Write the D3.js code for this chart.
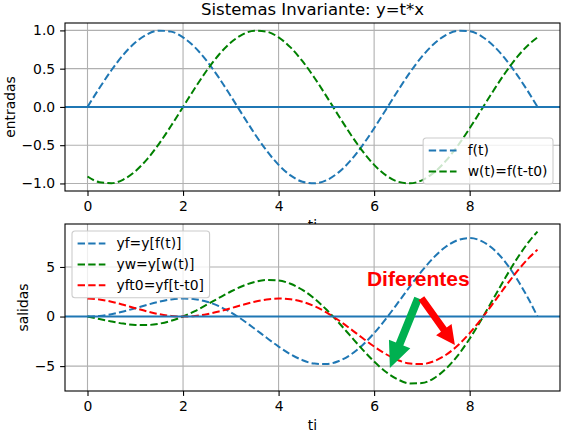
<!DOCTYPE html>
<html>
<head>
<meta charset="utf-8">
<script src="https://cdn.jsdelivr.net/npm/d3@7"></script>
<style>
  body { margin: 0; background: #fff; }
  svg { display: block; font-family: "DejaVu Sans", sans-serif; }
</style>
</head>
<body>
<svg id="chart" width="565" height="435"></svg>
<script>
// muestras de t (0 .. 3π)
const T = [0, 0.25, 0.5, 0.75, 1, 1.25, 1.5, 1.75, 2, 2.25, 2.5, 2.75, 3, 3.25, 3.5, 3.75,
  4, 4.25, 4.5, 4.75, 5, 5.25, 5.5, 5.75, 6, 6.25, 6.5, 6.75, 7, 7.25, 7.5, 7.75,
  8, 8.25, 8.5, 8.75, 9, 9.25, 9.42];

// entradas
const F = [0, 0.247, 0.479, 0.682, 0.841, 0.949, 0.997, 0.984, 0.909, 0.778, 0.598, 0.382,
  0.141, -0.108, -0.351, -0.572, -0.757, -0.895, -0.978, -0.999, -0.959, -0.859, -0.706,
  -0.508, -0.279, -0.033, 0.215, 0.450, 0.657, 0.823, 0.938, 0.995, 0.989, 0.923, 0.798,
  0.625, 0.412, 0.174, 0.000];
const W = [-0.909, -0.984, -0.997, -0.949, -0.841, -0.682, -0.479, -0.247, 0, 0.247, 0.479,
  0.682, 0.841, 0.949, 0.997, 0.984, 0.909, 0.778, 0.598, 0.382, 0.141, -0.108, -0.351,
  -0.572, -0.757, -0.895, -0.978, -0.999, -0.959, -0.859, -0.706, -0.508, -0.279, -0.033,
  0.215, 0.450, 0.657, 0.823, 0.909];

// salidas
const YF = [0, 0.062, 0.240, 0.511, 0.841, 1.186, 1.496, 1.722, 1.819, 1.751, 1.496, 1.050,
  0.423, -0.352, -1.228, -2.144, -3.027, -3.804, -4.399, -4.747, -4.795, -4.509, -3.880,
  -2.922, -1.676, -0.208, 1.398, 3.038, 4.599, 5.968, 7.035, 7.708, 7.915, 7.612, 6.787,
  5.467, 3.709, 1.609, 0.000];
const YW = [0, -0.246, -0.499, -0.712, -0.841, -0.852, -0.719, -0.433, 0, 0.557, 1.199,
  1.874, 2.525, 3.084, 3.491, 3.690, 3.637, 3.307, 2.693, 1.813, 0.706, -0.568, -1.929,
  -3.287, -4.541, -5.594, -6.354, -6.745, -6.712, -6.227, -5.291, -3.939, -2.235, -0.274,
  1.828, 3.938, 5.913, 7.614, 8.570];
const YFT0 = [1.819, 1.722, 1.496, 1.186, 0.841, 0.511, 0.240, 0.062, 0, 0.062, 0.240,
  0.511, 0.841, 1.186, 1.496, 1.722, 1.819, 1.751, 1.496, 1.050, 0.423, -0.352, -1.228,
  -2.144, -3.027, -3.804, -4.399, -4.747, -4.795, -4.509, -3.880, -2.922, -1.676, -0.208,
  1.398, 3.038, 4.599, 5.968, 6.751];

const X_TICKS = [0, 2, 4, 6, 8];
const TOP_Y_TICKS = [-1, -0.5, 0, 0.5, 1];
const BOT_Y_TICKS = [-5, 0, 5];

const TOP_SERIES = [
  { name: "f(t)", values: F, color: "#1f77b4" },
  { name: "w(t)=f(t-t0)", values: W, color: "#008000" }
];
const BOT_SERIES = [
  { name: "yf=y[f(t)]", values: YF, color: "#1f77b4" },
  { name: "yw=y[w(t)]", values: YW, color: "#008000" },
  { name: "yft0=yf[t-t0]", values: YFT0, color: "#ff0000" }
];

// anotación (coordenadas de datos del panel inferior)
const NOTE = { text: "Diferentes", t: 5.85, y: 3.05 };
const ARROWS = [
  { from: [6.92, 1.85], to: [6.33, -5.2], color: "#00b050", shaft: 8, head: 23, headLen: 26 },
  { from: [6.99, 1.85], to: [7.69, -2.88], color: "#ff0000", shaft: 7, head: 19, headLen: 19 }
];

const FS = 13.9;
const svg = d3.select("#chart");

function padded(ext) {
  const m = (ext[1] - ext[0]) * 0.05;
  return [ext[0] - m, ext[1] + m];
}

const x = d3.scaleLinear().domain(padded(d3.extent(T))).range([65, 560]);

function drawPanel(box, series, yTicks, yFmt, ylabel, ylabelX, legendPos) {
  const all = series.flatMap(s => s.values);
  const y = d3.scaleLinear().domain(padded(d3.extent(all))).range([box.y1, box.y0]);
  const g = svg.append("g");

  g.append("rect")
    .attr("x", box.x0).attr("y", box.y0)
    .attr("width", box.x1 - box.x0).attr("height", box.y1 - box.y0)
    .attr("fill", "#fff");

  // rejilla
  g.selectAll(".gx").data(X_TICKS).enter().append("line")
    .attr("x1", d => x(d)).attr("x2", d => x(d))
    .attr("y1", box.y0).attr("y2", box.y1)
    .attr("stroke", "#b0b0b0").attr("stroke-width", 1.1);
  g.selectAll(".gy").data(yTicks).enter().append("line")
    .attr("x1", box.x0).attr("x2", box.x1)
    .attr("y1", d => y(d)).attr("y2", d => y(d))
    .attr("stroke", "#b0b0b0").attr("stroke-width", 1.1);

  const line = d3.line()
    .x((d, i) => x(T[i]))
    .y(d => y(d))
    .curve(d3.curveMonotoneX);

  series.forEach(s => {
    g.append("path")
      .attr("d", line(s.values))
      .attr("fill", "none")
      .attr("stroke", s.color)
      .attr("stroke-width", 2)
      .attr("stroke-dasharray", "7.4 3.2");
  });

  // axhline y=0
  g.append("line")
    .attr("x1", box.x0).attr("x2", box.x1)
    .attr("y1", y(0)).attr("y2", y(0))
    .attr("stroke", "#1f77b4").attr("stroke-width", 2);

  g.append("rect")
    .attr("x", box.x0).attr("y", box.y0)
    .attr("width", box.x1 - box.x0).attr("height", box.y1 - box.y0)
    .attr("fill", "none").attr("stroke", "#000").attr("stroke-width", 1.1);

  // ejes
  const xAxis = g.append("g").attr("transform", `translate(0,${box.y1})`)
    .call(d3.axisBottom(x).tickValues(X_TICKS).tickSize(4.9).tickPadding(4.9));
  const yAxis = g.append("g").attr("transform", `translate(${box.x0},0)`)
    .call(d3.axisLeft(y).tickValues(yTicks).tickFormat(yFmt).tickSize(4.9).tickPadding(4.9));
  [xAxis, yAxis].forEach(a => {
    a.select(".domain").remove();
    a.selectAll(".tick line").attr("stroke", "#000").attr("stroke-width", 1.1);
    a.selectAll(".tick text").attr("fill", "#000")
      .style("font-size", FS + "px").style("font-family", "DejaVu Sans");
  });

  g.append("text")
    .attr("transform", `translate(${ylabelX},${(box.y0 + box.y1) / 2}) rotate(-90)`)
    .attr("text-anchor", "middle")
    .style("font-size", FS + "px")
    .text(ylabel);

  // leyenda
  const lg = g.append("g");
  const frame = lg.append("rect")
    .attr("rx", 3).attr("ry", 3)
    .attr("fill", "#fff").attr("fill-opacity", 0.8)
    .attr("stroke", "#cccccc").attr("stroke-width", 1.1);
  const rowH = 20.8;
  let maxW = 0;
  series.forEach((s, i) => {
    const cy = 12.6 + i * rowH;
    lg.append("line")
      .attr("x1", 5.6).attr("x2", 33.4).attr("y1", cy).attr("y2", cy)
      .attr("stroke", s.color).attr("stroke-width", 2).attr("stroke-dasharray", "7.4 3.2");
    const tx = lg.append("text")
      .attr("x", 44.5).attr("y", cy).attr("dy", "0.35em")
      .style("font-size", FS + "px")
      .text(s.name);
    maxW = Math.max(maxW, tx.node().getComputedTextLength());
  });
  const lw = 44.5 + maxW + 5.6;
  const lh = 12.6 * 2 + (series.length - 1) * rowH;
  frame.attr("width", lw).attr("height", lh);
  const lx = legendPos === "lower right" ? box.x1 - 7 - lw : box.x0 + 7;
  const ly = legendPos === "lower right" ? box.y1 - 7 - lh : box.y0 + 7;
  lg.attr("transform", `translate(${lx},${ly})`);

  return y;
}

// título
svg.append("text")
  .attr("x", 312.5).attr("y", 15)
  .attr("text-anchor", "middle")
  .style("font-size", "16.5px")
  .text("Sistemas Invariante: y=t*x");

const topBox = { x0: 65, x1: 560, y0: 23, y1: 191 };
const botBox = { x0: 65, x1: 560, y0: 224, y1: 391 };

drawPanel(topBox, TOP_SERIES, TOP_Y_TICKS, d3.format(".1f"), "entradas", 14.5, "lower right");

// etiqueta x del panel superior (queda tapada por el panel inferior)
svg.append("text")
  .attr("x", 312.5).attr("y", 229.5)
  .attr("text-anchor", "middle")
  .style("font-size", FS + "px")
  .text("ti");

const yb = drawPanel(botBox, BOT_SERIES, BOT_Y_TICKS, d3.format("d"), "salidas", 28, "upper left");

svg.append("text")
  .attr("x", 312.5).attr("y", 430)
  .attr("text-anchor", "middle")
  .style("font-size", FS + "px")
  .text("ti");

// anotación
svg.append("text")
  .attr("x", x(NOTE.t)).attr("y", yb(NOTE.y))
  .attr("fill", "#ff0000")
  .style("font-family", "'Liberation Sans', Arial, sans-serif")
  .style("font-weight", "bold")
  .style("font-size", "21px")
  .text(NOTE.text);

function arrowPoints(x1, y1, x2, y2, sw, hw, hl) {
  const L = Math.hypot(x2 - x1, y2 - y1);
  const ux = (x2 - x1) / L, uy = (y2 - y1) / L;
  const px = -uy, py = ux;
  const bx = x2 - ux * hl, by = y2 - uy * hl;
  return [
    [x1 + px * sw / 2, y1 + py * sw / 2],
    [bx + px * sw / 2, by + py * sw / 2],
    [bx + px * hw / 2, by + py * hw / 2],
    [x2, y2],
    [bx - px * hw / 2, by - py * hw / 2],
    [bx - px * sw / 2, by - py * sw / 2],
    [x1 - px * sw / 2, y1 - py * sw / 2]
  ];
}

ARROWS.forEach(a => {
  const pts = arrowPoints(x(a.from[0]), yb(a.from[1]), x(a.to[0]), yb(a.to[1]),
    a.shaft, a.head, a.headLen);
  svg.append("polygon")
    .attr("points", pts.map(p => p.join(",")).join(" "))
    .attr("fill", a.color);
});
</script>
</body>
</html>
